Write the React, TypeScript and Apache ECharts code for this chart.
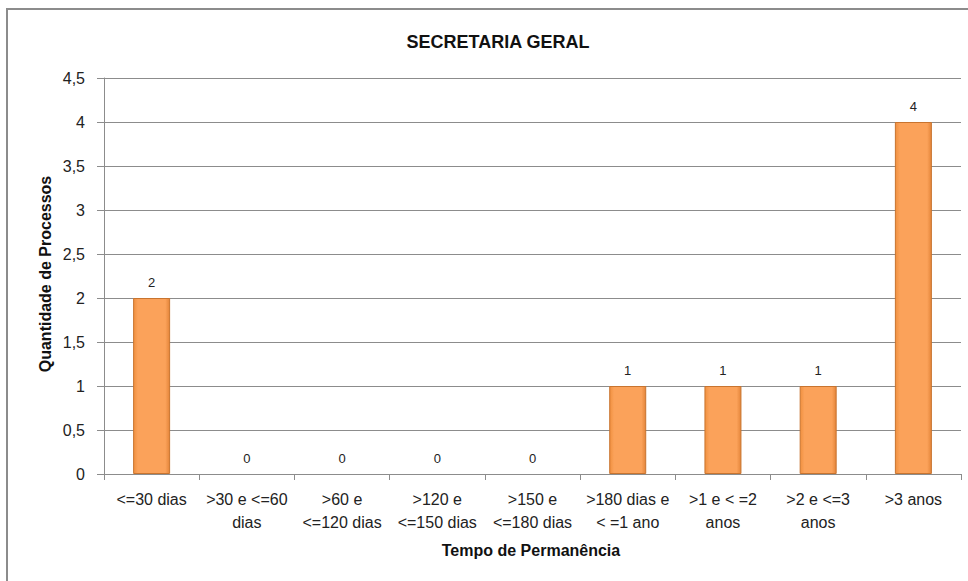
import React, { useEffect, useRef } from "react";
import * as echarts from "echarts";

const categories = [
  "<=30 dias",
  ">30 e <=60\ndias",
  ">60 e\n<=120 dias",
  ">120 e\n<=150 dias",
  ">150 e\n<=180 dias",
  ">180 dias e\n< =1 ano",
  ">1 e < =2\nanos",
  ">2 e <=3\nanos",
  ">3 anos",
];
const values = [2, 0, 0, 0, 0, 1, 1, 1, 4];
const titleText = "SECRETARIA GERAL";
const yAxisName = "Quantidade de Processos";
const xAxisName = "Tempo de Permanência";

const FONT = "'Liberation Sans', Arial, sans-serif";

export default function App() {
  const ref = useRef<HTMLDivElement>(null);
  useEffect(() => {
    if (!ref.current) return;
    const chart = echarts.init(ref.current, undefined, { renderer: "svg" });
    const barFill = new echarts.graphic.LinearGradient(0, 0, 1, 0, [
      { offset: 0, color: "#F0903F" },
      { offset: 0.12, color: "#FBA25A" },
      { offset: 0.88, color: "#FBA25A" },
      { offset: 1, color: "#E4853A" },
    ]);
    const seriesData = values.map((v) =>
      v === 0
        ? { value: v, itemStyle: { borderWidth: 0, color: "rgba(0,0,0,0)" } }
        : { value: v }
    );
    chart.setOption({
      animation: false,
      backgroundColor: "#ffffff",
      textStyle: { fontFamily: FONT },
      title: {
        text: titleText,
        left: 493,
        top: 28,
        textAlign: "center",
        textStyle: { fontFamily: FONT, fontSize: 18, fontWeight: "bold", color: "#111" },
      },
      graphic: [
        {
          type: "rect",
          shape: { x: 7, y: 9, width: 1000, height: 1000 },
          style: { fill: "none", stroke: "#8c8c8c", lineWidth: 2 },
          silent: true,
        },
        {
          type: "text",
          x: 45,
          y: 274,
          rotation: Math.PI / 2,
          style: {
            text: yAxisName,
            fontFamily: FONT,
            fontSize: 16,
            fontWeight: "bold",
            fill: "#111",
            textAlign: "center",
            textVerticalAlign: "middle",
          },
        },
        {
          type: "text",
          x: 531,
          y: 550,
          style: {
            text: xAxisName,
            fontFamily: FONT,
            fontSize: 16,
            fontWeight: "bold",
            fill: "#111",
            textAlign: "center",
            textVerticalAlign: "middle",
          },
        },
      ],
      grid: { left: 104, right: 7, top: 78, bottom: 107, containLabel: false },
      xAxis: {
        type: "category",
        data: categories,
        axisLine: { lineStyle: { color: "#8c8c8c", width: 1 } },
        axisTick: { show: true, alignWithLabel: false, length: 6, lineStyle: { color: "#8c8c8c" } },
        axisLabel: {
          interval: 0,
          margin: 14,
          fontFamily: FONT,
          fontSize: 16,
          lineHeight: 23,
          color: "#222",
        },
      },
      yAxis: {
        type: "value",
        min: 0,
        max: 4.5,
        interval: 0.5,
        axisLine: { show: true, lineStyle: { color: "#8c8c8c", width: 1 } },
        axisTick: { show: true, inside: false, length: 7, lineStyle: { color: "#8c8c8c" } },
        splitLine: { show: true, lineStyle: { color: "#8c8c8c", width: 1 } },
        axisLabel: {
          margin: 19,
          fontFamily: FONT,
          fontSize: 16,
          color: "#222",
          formatter: (v: number) => String(v).replace(".", ","),
        },
      },
      series: [
        {
          type: "bar",
          data: seriesData,
          barWidth: 37,
          itemStyle: {
            color: barFill,
            borderColor: "#C8742F",
            borderWidth: 1,
          },
          label: {
            show: true,
            position: "top",
            distance: 9,
            fontFamily: FONT,
            fontSize: 13,
            color: "#222",
          },
        },
      ],
    });
    return () => chart.dispose();
  }, []);
  return (
    <div
      ref={ref}
      style={{ position: "fixed", left: 0, top: 0, width: 968, height: 581 }}
    />
  );
}
